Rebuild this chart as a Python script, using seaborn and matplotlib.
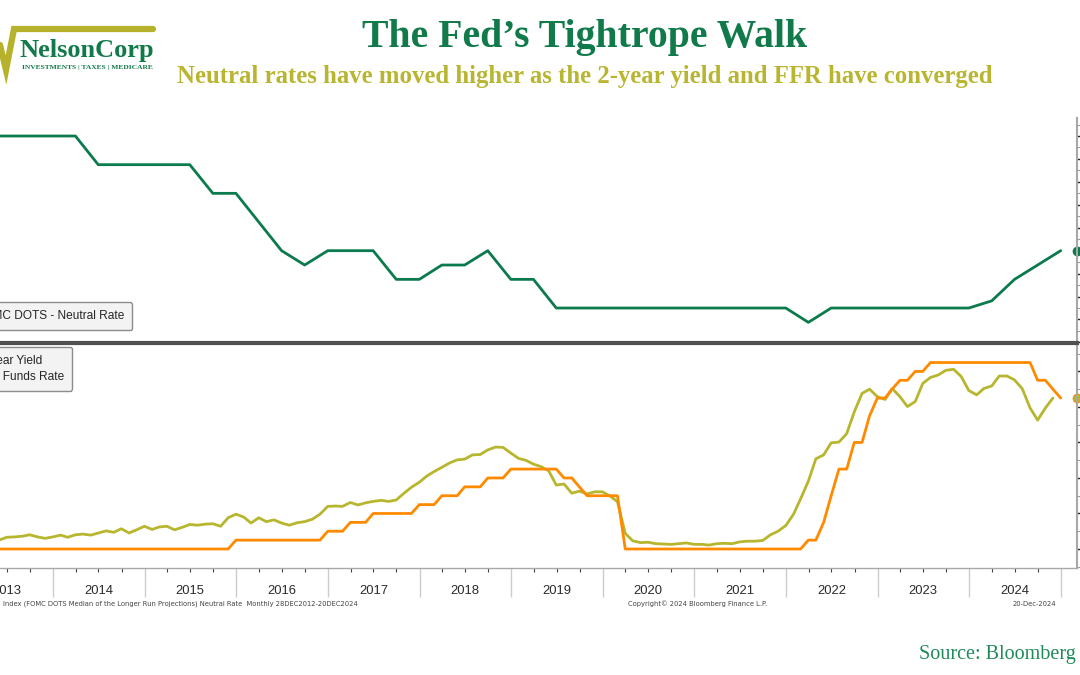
import numpy as np
import pandas as pd
import matplotlib
matplotlib.use("Agg")
import matplotlib.pyplot as plt
import matplotlib.dates as mdates
from matplotlib.ticker import MultipleLocator, NullFormatter, FuncFormatter
from matplotlib.lines import Line2D
import seaborn as sns

# ---------------- data ----------------
# FOMC longer-run (neutral) rate median, quarterly SEP, Dec 2012 - Dec 2024
neutral_2012 = [4.0]
neutral_2013 = [4.0, 4.0, 4.0, 4.0]
neutral_2014 = [4.0, 3.75, 3.75, 3.75]
neutral_2015 = [3.75, 3.75, 3.5, 3.5]
neutral_2016 = [3.25, 3.0, 2.875, 3.0]
neutral_2017 = [3.0, 3.0, 2.75, 2.75]
neutral_2018 = [2.875, 2.875, 3.0, 2.75]
neutral_2019 = [2.75, 2.5, 2.5, 2.5]
neutral_2020 = [2.5, 2.5, 2.5, 2.5]
neutral_2021 = [2.5, 2.5, 2.5, 2.5]
neutral_2022 = [2.375, 2.5, 2.5, 2.5]
neutral_2023 = [2.5, 2.5, 2.5, 2.5]
neutral_2024 = [2.5625, 2.75, 2.875, 3.0]

# 2-year Treasury yield, monthly, Dec 2012 - Nov 2024
y2_2012 = [0.26]
y2_2013 = [0.27, 0.27, 0.26, 0.23, 0.25, 0.33, 0.34, 0.36, 0.40, 0.34, 0.30, 0.34]
y2_2014 = [0.39, 0.33, 0.40, 0.42, 0.39, 0.45, 0.51, 0.47, 0.57, 0.45, 0.54, 0.64]
y2_2015 = [0.55, 0.62, 0.64, 0.54, 0.61, 0.69, 0.67, 0.70, 0.71, 0.64, 0.88, 0.98]
y2_2016 = [0.90, 0.73, 0.88, 0.77, 0.82, 0.73, 0.67, 0.74, 0.77, 0.84, 0.98, 1.20]
y2_2017 = [1.21, 1.20, 1.31, 1.24, 1.30, 1.34, 1.37, 1.34, 1.38, 1.57, 1.74, 1.88]
y2_2018 = [2.06, 2.18, 2.30, 2.42, 2.51, 2.53, 2.65, 2.66, 2.79, 2.87, 2.86, 2.70]
y2_2019 = [2.55, 2.50, 2.39, 2.32, 2.20, 1.80, 1.83, 1.57, 1.63, 1.55, 1.61, 1.61]
y2_2020 = [1.49, 1.33, 0.44, 0.23, 0.18, 0.19, 0.15, 0.14, 0.13, 0.15, 0.17, 0.13]
y2_2021 = [0.13, 0.11, 0.15, 0.16, 0.15, 0.20, 0.22, 0.22, 0.24, 0.40, 0.50, 0.66]
y2_2022 = [0.98, 1.41, 1.91, 2.54, 2.65, 2.99, 3.01, 3.25, 3.86, 4.38, 4.50, 4.29]
y2_2023 = [4.21, 4.52, 4.29, 4.01, 4.15, 4.66, 4.83, 4.90, 5.03, 5.06, 4.86, 4.46]
y2_2024 = [4.34, 4.52, 4.59, 4.87, 4.87, 4.76, 4.51, 3.97, 3.63, 3.97, 4.25]

# Fed funds target rate, monthly, Dec 2012 - Dec 2024
ffr_2012 = [0.0]
ffr_2013 = [0.0, 0.0, 0.0, 0.0, 0.0, 0.0, 0.0, 0.0, 0.0, 0.0, 0.0, 0.0]
ffr_2014 = [0.0, 0.0, 0.0, 0.0, 0.0, 0.0, 0.0, 0.0, 0.0, 0.0, 0.0, 0.0]
ffr_2015 = [0.0, 0.0, 0.0, 0.0, 0.0, 0.0, 0.0, 0.0, 0.0, 0.0, 0.0, 0.25]
ffr_2016 = [0.25, 0.25, 0.25, 0.25, 0.25, 0.25, 0.25, 0.25, 0.25, 0.25, 0.25, 0.5]
ffr_2017 = [0.5, 0.5, 0.75, 0.75, 0.75, 1.0, 1.0, 1.0, 1.0, 1.0, 1.0, 1.25]
ffr_2018 = [1.25, 1.25, 1.5, 1.5, 1.5, 1.75, 1.75, 1.75, 2.0, 2.0, 2.0, 2.25]
ffr_2019 = [2.25, 2.25, 2.25, 2.25, 2.25, 2.25, 2.0, 2.0, 1.75, 1.5, 1.5, 1.5]
ffr_2020 = [1.5, 1.5, 0.0, 0.0, 0.0, 0.0, 0.0, 0.0, 0.0, 0.0, 0.0, 0.0]
ffr_2021 = [0.0, 0.0, 0.0, 0.0, 0.0, 0.0, 0.0, 0.0, 0.0, 0.0, 0.0, 0.0]
ffr_2022 = [0.0, 0.0, 0.25, 0.25, 0.75, 1.5, 2.25, 2.25, 3.0, 3.0, 3.75, 4.25]
ffr_2023 = [4.25, 4.5, 4.75, 4.75, 5.0, 5.0, 5.25, 5.25, 5.25, 5.25, 5.25, 5.25]
ffr_2024 = [5.25, 5.25, 5.25, 5.25, 5.25, 5.25, 5.25, 5.25, 4.75, 4.75, 4.5, 4.25]

neutral = (neutral_2012 + neutral_2013 + neutral_2014 + neutral_2015 + neutral_2016 +
           neutral_2017 + neutral_2018 + neutral_2019 + neutral_2020 + neutral_2021 +
           neutral_2022 + neutral_2023 + neutral_2024)
two_year = (y2_2012 + y2_2013 + y2_2014 + y2_2015 + y2_2016 + y2_2017 + y2_2018 +
            y2_2019 + y2_2020 + y2_2021 + y2_2022 + y2_2023 + y2_2024)
ffr = (ffr_2012 + ffr_2013 + ffr_2014 + ffr_2015 + ffr_2016 + ffr_2017 + ffr_2018 +
       ffr_2019 + ffr_2020 + ffr_2021 + ffr_2022 + ffr_2023 + ffr_2024)

df_neutral = pd.DataFrame({
    "date": pd.date_range("2012-12-31", periods=len(neutral),
                          freq=pd.offsets.QuarterEnd(startingMonth=12)),
    "value": neutral})
df_2y = pd.DataFrame({
    "date": pd.date_range("2012-12-31", periods=len(two_year), freq=pd.offsets.MonthEnd()),
    "value": two_year})
df_ffr = pd.DataFrame({
    "date": pd.date_range("2012-12-31", periods=len(ffr), freq=pd.offsets.MonthEnd()),
    "value": ffr})

# ---------------- style ----------------
sns.set_style("white")
plt.rcParams["font.family"] = ["DejaVu Sans"]

C_GREEN = "#0b7a4c"
C_YELLOW = "#b7b62e"
C_ORANGE = "#ff8a00"
C_TITLE = "#117a4a"
C_SUB = "#b8b531"

W, H = 1080, 675
fig = plt.figure(figsize=(W / 100, H / 100), dpi=100)
fig.patch.set_facecolor("white")

left = -46 / W
width = 1123 / W
ax_top = fig.add_axes([left, 1 - 343 / H, width, 225 / H])
ax_bot = fig.add_axes([left, 1 - 568 / H, width, 225 / H])

sns.lineplot(data=df_neutral, x="date", y="value", ax=ax_top, color=C_GREEN, lw=2.0,
             label="FOMC DOTS - Neutral Rate", legend=False)
sns.lineplot(data=df_2y, x="date", y="value", ax=ax_bot, color=C_YELLOW, lw=2.0,
             label="2-Year Yield", legend=False)
sns.lineplot(data=df_ffr, x="date", y="value", ax=ax_bot, color=C_ORANGE, lw=2.0,
             label="Fed Funds Rate", legend=False)

x0, x1 = pd.Timestamp("2012-12-02"), pd.Timestamp("2025-03-06")
for ax in (ax_top, ax_bot):
    ax.set_xlim(x0, x1)
    ax.set_xlabel("")
    ax.set_ylabel("")
    ax.set_facecolor("white")
    ax.yaxis.tick_right()
    ax.tick_params(axis="y", which="both", labelright=False, labelleft=False,
                   direction="out", right=True, left=False)
    ax.tick_params(axis="y", which="major", length=3, width=1, color="#222222")
    ax.tick_params(axis="y", which="minor", length=2, width=0.8, color="#9a9a9a")
    ax.spines["left"].set_visible(False)
    ax.spines["right"].set_color("#a8a8a8")
    ax.spines["right"].set_linewidth(1.5)

ax_top.set_ylim(2.195, 4.157)
ax_top.yaxis.set_major_locator(MultipleLocator(0.2))
ax_top.yaxis.set_minor_locator(MultipleLocator(0.1))
ax_top.spines["top"].set_visible(False)
ax_top.spines["bottom"].set_visible(False)
ax_top.tick_params(axis="x", which="both", bottom=False, labelbottom=False)

ax_bot.set_ylim(-0.535, 5.80)
ax_bot.yaxis.set_major_locator(MultipleLocator(1.0))
ax_bot.yaxis.set_minor_locator(MultipleLocator(0.5))
ax_bot.spines["top"].set_color("#505050")
ax_bot.spines["top"].set_linewidth(3)
ax_bot.spines["bottom"].set_color("#a8a8a8")
ax_bot.spines["bottom"].set_linewidth(1)

ax_bot.xaxis.set_major_locator(mdates.YearLocator())
ax_bot.xaxis.set_major_formatter(NullFormatter())
ax_bot.xaxis.set_minor_locator(mdates.MonthLocator([1, 4, 7, 10]))


def year_fmt(x, pos):
    d = mdates.num2date(x)
    return str(d.year) if d.month == 7 else ""


ax_bot.xaxis.set_minor_formatter(FuncFormatter(year_fmt))
ax_bot.tick_params(axis="x", which="major", length=21, width=1, color="#cccccc",
                   direction="out", bottom=True)
ax_bot.tick_params(axis="x", which="minor", length=3, width=0.8, color="#444444",
                   direction="out", bottom=True, labelsize=9.4, pad=9, labelcolor="#2b2b2b")
for lbl in ax_bot.xaxis.get_minorticklabels():
    lbl.set_family("Liberation Sans")

# last-value markers on the right axis
ax_top.plot([x1], [neutral[-1]], marker="o", ms=6, color=C_GREEN, clip_on=False)
ax_bot.plot([x1], [ffr[-1]], marker="o", ms=6, color=C_ORANGE, clip_on=False)
ax_bot.plot([x1], [two_year[-1]], marker="o", ms=4.5, color=C_YELLOW, clip_on=False)

# legends
leg_kw = dict(frameon=True, fancybox=True, borderaxespad=0, borderpad=0.65,
              handlelength=1.6, facecolor="#f3f3f3", edgecolor="#8c8c8c",
              framealpha=1, labelcolor="#262626", bbox_transform=fig.transFigure,
              prop={"family": "Liberation Sans", "size": 8.6})
ax_top.legend([Line2D([], [], color=C_GREEN, lw=2)], ["FOMC DOTS - Neutral Rate"],
              loc="lower right", bbox_to_anchor=(132 / W, 1 - 330 / H), **leg_kw)
ax_bot.legend([Line2D([], [], color=C_YELLOW, lw=2), Line2D([], [], color=C_ORANGE, lw=2)],
              ["2-Year Yield", "Fed Funds Rate"],
              loc="upper right", bbox_to_anchor=(72 / W, 1 - 347 / H),
              labelspacing=0.35, **leg_kw)

# ---------------- titles / texts ----------------
fig.text(585 / W, 1 - 38 / H, "The Fed\u2019s Tightrope Walk", ha="center", va="center",
         fontsize=28.6, fontweight="bold", family="Liberation Serif", color=C_TITLE)
fig.text(585 / W, 1 - 76 / H,
         "Neutral rates have moved higher as the 2-year yield and FFR have converged",
         ha="center", va="center", fontsize=17.8, fontweight="bold",
         family="Liberation Serif", color=C_SUB)
fig.text(1076 / W, 1 - 655 / H, "Source: Bloomberg", ha="right", va="center",
         fontsize=14.5, family="Liberation Serif", color="#1f8a5a")

foot_kw = dict(fontsize=4.9, color="#444444", va="center")
fig.text(3 / W, 1 - 604 / H,
         "Index (FOMC DOTS Median of the Longer Run Projections) Neutral Rate  Monthly 28DEC2012-20DEC2024",
         ha="left", **foot_kw)
fig.text(628 / W, 1 - 604 / H, "Copyright\u00a9 2024 Bloomberg Finance L.P.", ha="left", **foot_kw)
fig.text(1013 / W, 1 - 604 / H, "20-Dec-2024", ha="left", **foot_kw)

# logo
fig.add_artist(Line2D([0 / W, 6 / W, 14 / W, 153 / W],
                      [1 - 45 / H, 1 - 70 / H, 1 - 29 / H, 1 - 29 / H],
                      color="#b6b22c", lw=4.5, solid_joinstyle="miter",
                      transform=fig.transFigure))
fig.text(20 / W, 1 - 50 / H, "NelsonCorp", ha="left", va="center", fontsize=19,
         fontweight="bold", family="Liberation Serif", color=C_TITLE)
fig.text(22 / W, 1 - 68 / H, "INVESTMENTS | TAXES | MEDICARE", ha="left", va="center",
         fontsize=5.4, fontweight="bold", family="Liberation Serif", color=C_TITLE)

fig.savefig("out.png", dpi=100)
